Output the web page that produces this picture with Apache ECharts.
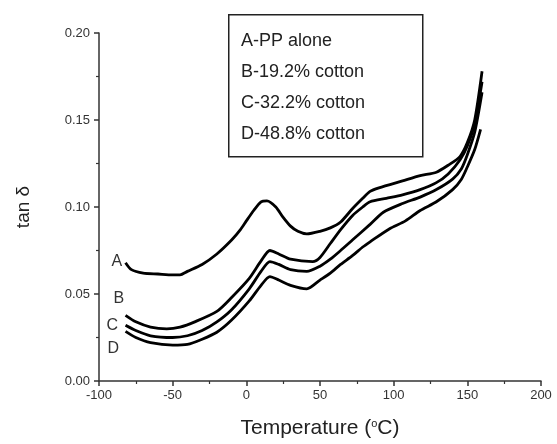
<!DOCTYPE html>
<html><head><meta charset="utf-8">
<script src="https://cdn.jsdelivr.net/npm/echarts@6/dist/echarts.min.js"></script>
<style>html,body{margin:0;padding:0;background:#fff}#c{width:557px;height:444px}</style>
</head><body><div id="c"></div>
<script>
const xTicks = [-100, -50, 0, 50, 100, 150, 200];
const yTicks = [0.00, 0.05, 0.10, 0.15, 0.20];
const seriesNames = ['A', 'B', 'C', 'D'];
const legendLines = ['A-PP alone', 'B-19.2% cotton', 'C-32.2% cotton', 'D-48.8% cotton'];

const tempA = [-82, -78, -70, -60, -50, -45, -40, -30, -20, -10, -4, 0, 5, 10, 14, 20, 25, 30, 35, 41, 50, 57, 64, 72, 79, 84, 90, 106, 118, 129, 137, 145, 150, 155, 160];
const tanA  = [0.068, 0.064, 0.062, 0.0615, 0.061, 0.061, 0.063, 0.067, 0.073, 0.081, 0.087, 0.092, 0.098, 0.103, 0.1035, 0.100, 0.094, 0.089, 0.086, 0.0845, 0.086, 0.088, 0.0914, 0.099, 0.105, 0.109, 0.111, 0.115, 0.118, 0.120, 0.124, 0.129, 0.137, 0.150, 0.178];

const tempB = [-82, -75, -65, -54, -45, -35, -20, -10, 2, 10, 16, 22, 30, 45, 50, 57, 64, 72, 79, 84, 95, 106, 118, 129, 137, 145, 150, 155, 160];
const tanB  = [0.0377, 0.034, 0.031, 0.030, 0.031, 0.034, 0.040, 0.048, 0.059, 0.069, 0.075, 0.073, 0.070, 0.0686, 0.071, 0.079, 0.087, 0.095, 0.100, 0.103, 0.105, 0.107, 0.110, 0.114, 0.119, 0.127, 0.135, 0.148, 0.172];

const tempC = [-82, -75, -65, -50, -40, -30, -20, -10, 2, 10, 16, 22, 30, 41, 50, 57, 64, 72, 84, 93, 106, 118, 129, 140, 146, 150, 155, 160];
const tanC  = [0.032, 0.029, 0.026, 0.025, 0.026, 0.029, 0.034, 0.041, 0.053, 0.063, 0.0686, 0.067, 0.064, 0.063, 0.066, 0.070, 0.075, 0.081, 0.090, 0.097, 0.102, 0.1057, 0.110, 0.116, 0.122, 0.130, 0.143, 0.166];

const tempD = [-82, -75, -65, -50, -40, -30, -20, -10, 2, 10, 16, 22, 30, 41, 50, 57, 64, 72, 79, 84, 97, 108, 118, 129, 140, 146, 150, 155, 159];
const tanD  = [0.0285, 0.025, 0.022, 0.0206, 0.021, 0.024, 0.028, 0.035, 0.046, 0.055, 0.060, 0.058, 0.055, 0.053, 0.058, 0.062, 0.067, 0.072, 0.077, 0.080, 0.0874, 0.092, 0.098, 0.103, 0.110, 0.116, 0.123, 0.133, 0.1446];

const labelPos = {A: [-14, -9], B: [-12, -25], C: [-19, -8], D: [-18, 9]};

function mk(name, xs, ys) {
  const data = xs.map((x, i) => {
    const item = {value: [x, ys[i]]};
    if (i === 0) {
      item.label = {show: true, formatter: name, position: labelPos[name],
        fontSize: 16, color: '#333', fontFamily: 'Liberation Sans'};
    }
    return item;
  });
  return {
    name, type: 'line', data, showSymbol: true, symbol: 'circle', symbolSize: 0, smooth: 0.25,
    lineStyle: {color: '#000', width: 2.8}, itemStyle: {color: '#000'}, silent: true, animation: false,
    label: {show: false}, labelLayout: {hideOverlap: false}
  };
}

const chart = echarts.init(document.getElementById('c'), null, {renderer: 'canvas'});
const axisFont = {fontFamily: 'Liberation Sans', fontSize: 13, color: '#333'};
chart.setOption({
  animation: false,
  backgroundColor: '#fff',
  grid: {left: 99, right: 16, top: 33, bottom: 61, containLabel: false},
  xAxis: {
    type: 'value', min: xTicks[0], max: xTicks[xTicks.length - 1], interval: 50,
    axisLine: {show: true, onZero: false, lineStyle: {color: '#333', width: 1.5}},
    axisTick: {show: true, inside: false, length: 5, lineStyle: {color: '#333', width: 1.5}},
    minorTick: {show: true, splitNumber: 2, length: 3, lineStyle: {color: '#333', width: 1.2}},
    splitLine: {show: false},
    axisLabel: Object.assign({margin: 8, formatter: v => String(v)}, axisFont),
    name: '{a|Temperature (}{s|o}{a|C)}', nameLocation: 'middle', nameGap: 37,
    nameTextStyle: {rich: {
      a: {fontFamily: 'Liberation Sans', fontSize: 21, color: '#222'},
      s: {fontFamily: 'Liberation Sans', fontSize: 11, color: '#222', verticalAlign: 'top', padding: [0, 0, 10, 0]}
    }}
  },
  yAxis: {
    type: 'value', min: yTicks[0], max: yTicks[yTicks.length - 1], interval: 0.05,
    axisLine: {show: true, onZero: false, lineStyle: {color: '#333', width: 1.5}},
    axisTick: {show: true, inside: false, length: 5, lineStyle: {color: '#333', width: 1.5}},
    minorTick: {show: true, splitNumber: 2, length: 3, lineStyle: {color: '#333', width: 1.2}},
    splitLine: {show: false},
    axisLabel: Object.assign({margin: 9, formatter: v => v.toFixed(2)}, axisFont),
    name: 'tan δ', nameLocation: 'middle', nameGap: 66, nameRotate: 90,
    nameTextStyle: {fontFamily: 'Liberation Sans', fontSize: 19, color: '#222'}
  },
  graphic: [
    {type: 'rect', left: 228, top: 14, shape: {width: 194, height: 142},
      style: {fill: '#fff', stroke: '#222', lineWidth: 1.5}, z: 10},
    ...legendLines.map((t, i) => ({
      type: 'text', left: 241, top: 32 + i * 31, z: 11,
      style: {text: t, font: '18px "Liberation Sans"', fill: '#222'}
    }))
  ],
  series: [mk('A', tempA, tanA), mk('B', tempB, tanB), mk('C', tempC, tanC), mk('D', tempD, tanD)]
});
</script></body></html>
